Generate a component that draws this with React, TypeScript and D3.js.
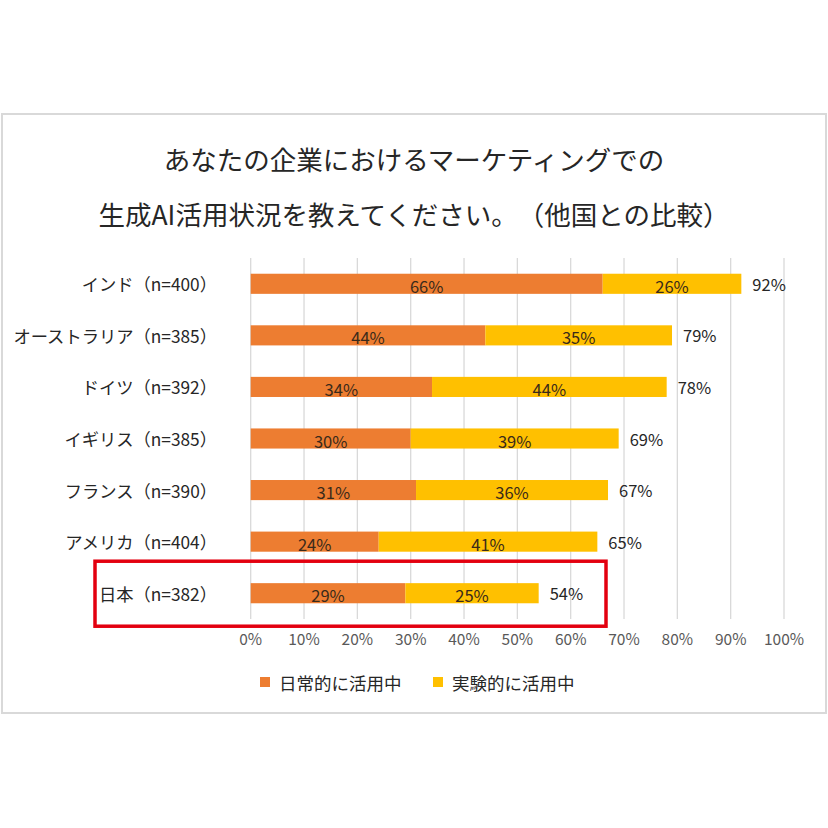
import React from "react";
import * as d3 from "d3";

const categories = [
  "インド（n=400）",
  "オーストラリア（n=385）",
  "ドイツ（n=392）",
  "イギリス（n=385）",
  "フランス（n=390）",
  "アメリカ（n=404）",
  "日本（n=382）",
];
const daily = [66, 44, 34, 30, 31, 24, 29];
const experimental = [26, 35, 44, 39, 36, 41, 25];
const totals = [92, 79, 78, 69, 67, 65, 54];
const xTicks = [0, 10, 20, 30, 40, 50, 60, 70, 80, 90, 100];
const seriesNames = ["日常的に活用中", "実験的に活用中"];
const titleLines = [
  "あなたの企業におけるマーケティングでの",
  "生成AI活用状況を教えてください。（他国との比較）",
];
const highlight = "日本（n=382）";

const W = 828;
const H = 828;
const FONT = "'Noto Sans CJK JP', 'Noto Sans', sans-serif";
const COLORS = ["#ED7D31", "#FFC000"];

export default function App() {
  const x = d3.scaleLinear().domain([0, 100]).range([250.7, 784]);
  const y = d3
    .scaleBand<string>()
    .domain(categories)
    .range([258, 619])
    .paddingInner(0.61)
    .paddingOuter(0.305);
  const bw = y.bandwidth();
  const hb = y(highlight)! + bw / 2;

  return (
    <svg
      width={W}
      height={H}
      style={{
        position: "absolute",
        left: 0,
        top: 0,
        background: "#fff",
        textSpacingTrim: "space-all",
      } as any}
      fontFamily={FONT}
    >
      <rect x={0} y={0} width={W} height={H} fill="#fff" />
      <rect x={2} y={114} width={824} height={599} fill="#fff" stroke="#d9d9d9" strokeWidth={2} />
      {titleLines.map((t, i) => (
        <text
          key={i}
          x={414}
          y={158 + i * 55}
          textAnchor="middle"
          dominantBaseline="central"
          fontSize={26.5}
          fill="#262626"
          style={{ textSpacingTrim: "space-all" } as any}
        >
          {t}
        </text>
      ))}
      {xTicks.map((t) => (
        <g key={t}>
          <line x1={x(t)} x2={x(t)} y1={258} y2={619} stroke="#d9d9d9" strokeWidth={1.3} />
          <text
            x={x(t)}
            y={638}
            textAnchor="middle"
            dominantBaseline="central"
            fontSize={15.5}
            fill="#595959"
          >
            {t}%
          </text>
        </g>
      ))}
      {categories.map((c, i) => {
        const yy = y(c)!;
        const cy = yy + bw / 2;
        const x0 = x(0);
        const x1 = x(daily[i]);
        const x2 = x(daily[i] + experimental[i]);
        return (
          <g key={c}>
            <rect x={x0} y={yy} width={x1 - x0} height={bw} fill={COLORS[0]} />
            <rect x={x1} y={yy} width={x2 - x1} height={bw} fill={COLORS[1]} />
            <text x={(x0 + x1) / 2} y={cy + 2} textAnchor="middle" dominantBaseline="central" fontSize={16.5} fill="#3a2a1a">
              {daily[i]}%
            </text>
            <text x={(x1 + x2) / 2} y={cy + 2} textAnchor="middle" dominantBaseline="central" fontSize={16.5} fill="#3a2a1a">
              {experimental[i]}%
            </text>
            <text x={x(totals[i]) + 11} y={cy} dominantBaseline="central" fontSize={16.5} fill="#262626">
              {totals[i]}%
            </text>
            <text x={217} y={cy} textAnchor="end" dominantBaseline="central" fontSize={17.3} fill="#262626"
              style={{ textSpacingTrim: "space-all" } as any}>
              {c}
            </text>
          </g>
        );
      })}
      <rect
        x={95}
        y={hb - 32}
        width={511}
        height={65}
        fill="none"
        stroke="#E3000F"
        strokeWidth={3.5}
      />
      {seriesNames.map((s, i) => {
        const lx = i === 0 ? 260 : 433;
        return (
          <g key={s}>
            <rect x={lx} y={677} width={10} height={10} fill={COLORS[i]} />
            <text x={lx + 19} y={682} dominantBaseline="central" fontSize={17.5} fill="#262626">
              {s}
            </text>
          </g>
        );
      })}
    </svg>
  );
}
